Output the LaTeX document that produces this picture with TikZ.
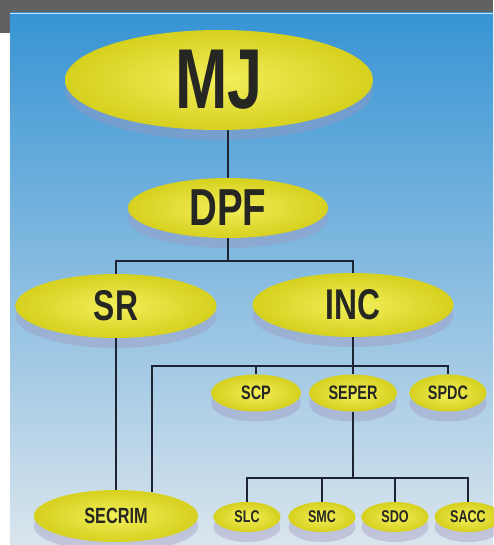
\documentclass[tikz,border=0pt]{standalone}
\usepackage{fontspec}
\newfontfamily\orgfont{Liberation Sans}[FakeStretch=0.74]
\usetikzlibrary{shapes.geometric,shadows}
\definecolor{skytop}{RGB}{55,148,212}
\definecolor{skymid}{RGB}{136,190,228}
\definecolor{skylow}{RGB}{218,229,237}
\definecolor{capyellow}{RGB}{240,236,62}
\definecolor{capedge}{RGB}{214,208,30}
\definecolor{inkline}{RGB}{28,36,52}
\definecolor{inktext}{RGB}{38,38,34}
\definecolor{shadecol}{RGB}{160,150,190}

\begin{document}
\begin{tikzpicture}[x=1pt,y=-1pt,
    unit/.style={ellipse,inner sep=0pt,inner color=capyellow!85!white,outer color=capedge,text=inktext,
      drop shadow={shadow xshift=0pt,shadow yshift=-10pt,fill=shadecol,opacity=0.4}},
    topunit/.style={unit,minimum width=308pt,minimum height=100pt,font=\orgfont\bfseries\fontsize{85}{85}\selectfont},
    dpfunit/.style={unit,minimum width=200pt,minimum height=60pt,font=\orgfont\bfseries\fontsize{52}{52}\selectfont},
    midunit/.style={unit,minimum width=201pt,minimum height=64pt,font=\orgfont\bfseries\fontsize{43}{43}\selectfont},
    subunit/.style={unit,minimum height=37pt,font=\orgfont\bfseries\fontsize{19.5}{19.5}\selectfont},
    crimunit/.style={unit,minimum width=164pt,minimum height=52pt,font=\orgfont\bfseries\fontsize{22}{22}\selectfont},
    leafunit/.style={unit,minimum width=67pt,minimum height=30pt,font=\orgfont\bfseries\fontsize{17}{17}\selectfont},
    link/.style={draw=inkline,line width=1.6pt}
]
\useasboundingbox (0,0) rectangle (493,545);
% backdrop
\fill[white] (0,0) rectangle (493,545);
\fill[black!62] (0,0) rectangle (493,13);
\fill[black!62] (0,0) rectangle (10,33);
\shade[top color=skytop,middle color=skymid,bottom color=skylow] (10,13) rectangle (493,545);
\draw[white!70!skytop,line width=0.8pt] (10,13.5) -- (493,13.5);

% units
\node[topunit] (mj) at (219,80) {MJ};
\node[dpfunit] (dpf) at (228,208) {DPF};
\node[midunit] (sr) at (116,306) {SR};
\node[midunit] (inc) at (353,305) {INC};
\node[subunit,minimum width=90pt] (scp) at (256,393) {SCP};
\node[subunit,minimum width=88pt] (seper) at (353,393) {SEPER};
\node[subunit,minimum width=77pt] (spdc) at (448,393) {SPDC};
\node[crimunit] (secrim) at (116,516) {SECRIM};
\node[leafunit] (slc) at (247,517) {SLC};
\node[leafunit] (smc) at (322,517) {SMC};
\node[leafunit] (sdo) at (395,517) {SDO};
\node[leafunit] (sacc) at (468,517) {SACC};

% junctions
\coordinate (splitA) at (228,261);
\coordinate (splitB) at (353,366);
\coordinate (splitC) at (353,478);

% connectors
\draw[link] (dpf.north) -- (dpf.north |- mj.south);
\draw[link] (dpf.south) -- (splitA);
\draw[link] (sr.north) |- (splitA) -| (inc.north);
\draw[link] (sr.south) -- (secrim.north);
\draw[link] (inc.south) -- (splitB);
\draw[link] (secrim.33) |- (splitB) -| (spdc.north);
\draw[link] (scp.north) |- (splitB);
\draw[link] (splitB) -- (seper.north);
\draw[link] (seper.south) -- (splitC);
\draw[link] (slc.north) |- (splitC) -| (sacc.north);
\draw[link] (smc.north) |- (splitC);
\draw[link] (sdo.north) |- (splitC);
\end{tikzpicture}
\end{document}
